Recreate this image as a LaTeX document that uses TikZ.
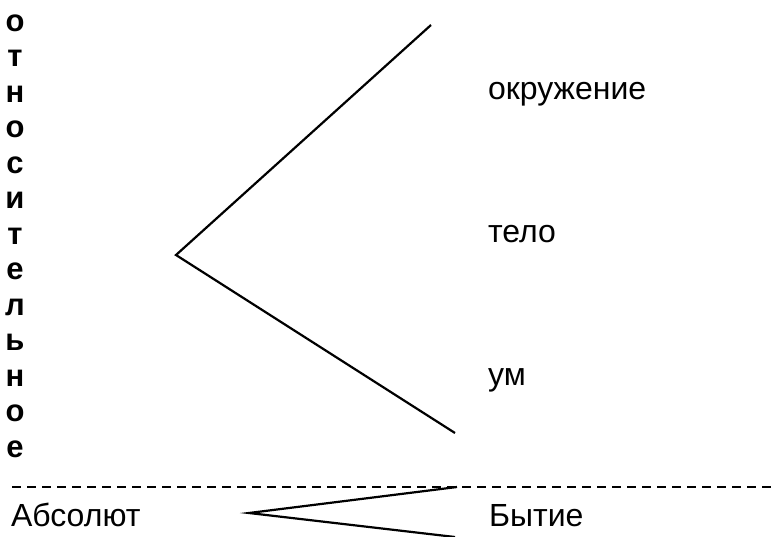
\documentclass[tikz,border=0pt]{standalone}
\usepackage{fontspec}
\setmainfont{Liberation Sans}
\usetikzlibrary{arrows}

\begin{document}
\begin{tikzpicture}[x=1pt,y=-1pt,line width=2.2pt,
            every node/.style={inner sep=0pt,font=\fontsize{32}{38}\selectfont}]
        \tikzstyle{word}=[anchor=base west]
        \tikzstyle{letter}=[anchor=base,font=\fontsize{31}{36}\selectfont\bfseries]
        \tikzstyle{border}=[line width=1.8pt,dash pattern=on 9pt off 6pt]

        \useasboundingbox (0,0) rectangle (775,536);

        % vertical word
        \foreach \ch [count=\i from 0] in {о,т,н,о,с,и,т,е,л,ь,н,о,е}
            \node[letter] (v\i) at (15,{31+35.5*\i}) {\ch};

        \node[word] (env) at (487,99) {окружение};
        \node[word] (body) at (487,242) {тело};
        \node[word] (mind) at (487,385) {ум};
        \node[word] (abs) at (10,526) {Абсолют};
        \node[word] (being) at (488,526) {Бытие};

        \coordinate (rtop) at (431,25);
        \coordinate (rapex) at (176,255);
        \coordinate (rbot) at (455,433);
        \coordinate (atop) at (457,487);
        \coordinate (aapex) at (249,513);
        \coordinate (abot) at (455,537);
        \coordinate (dl) at (12,487);
        \coordinate (dr) at (775,487);

        \draw (rtop) -- (rapex) -- (rbot);
        \draw (atop) -- (aapex) -- (abot);
        \draw[border] (dl) -- (dr);
    \end{tikzpicture}
\end{document}
